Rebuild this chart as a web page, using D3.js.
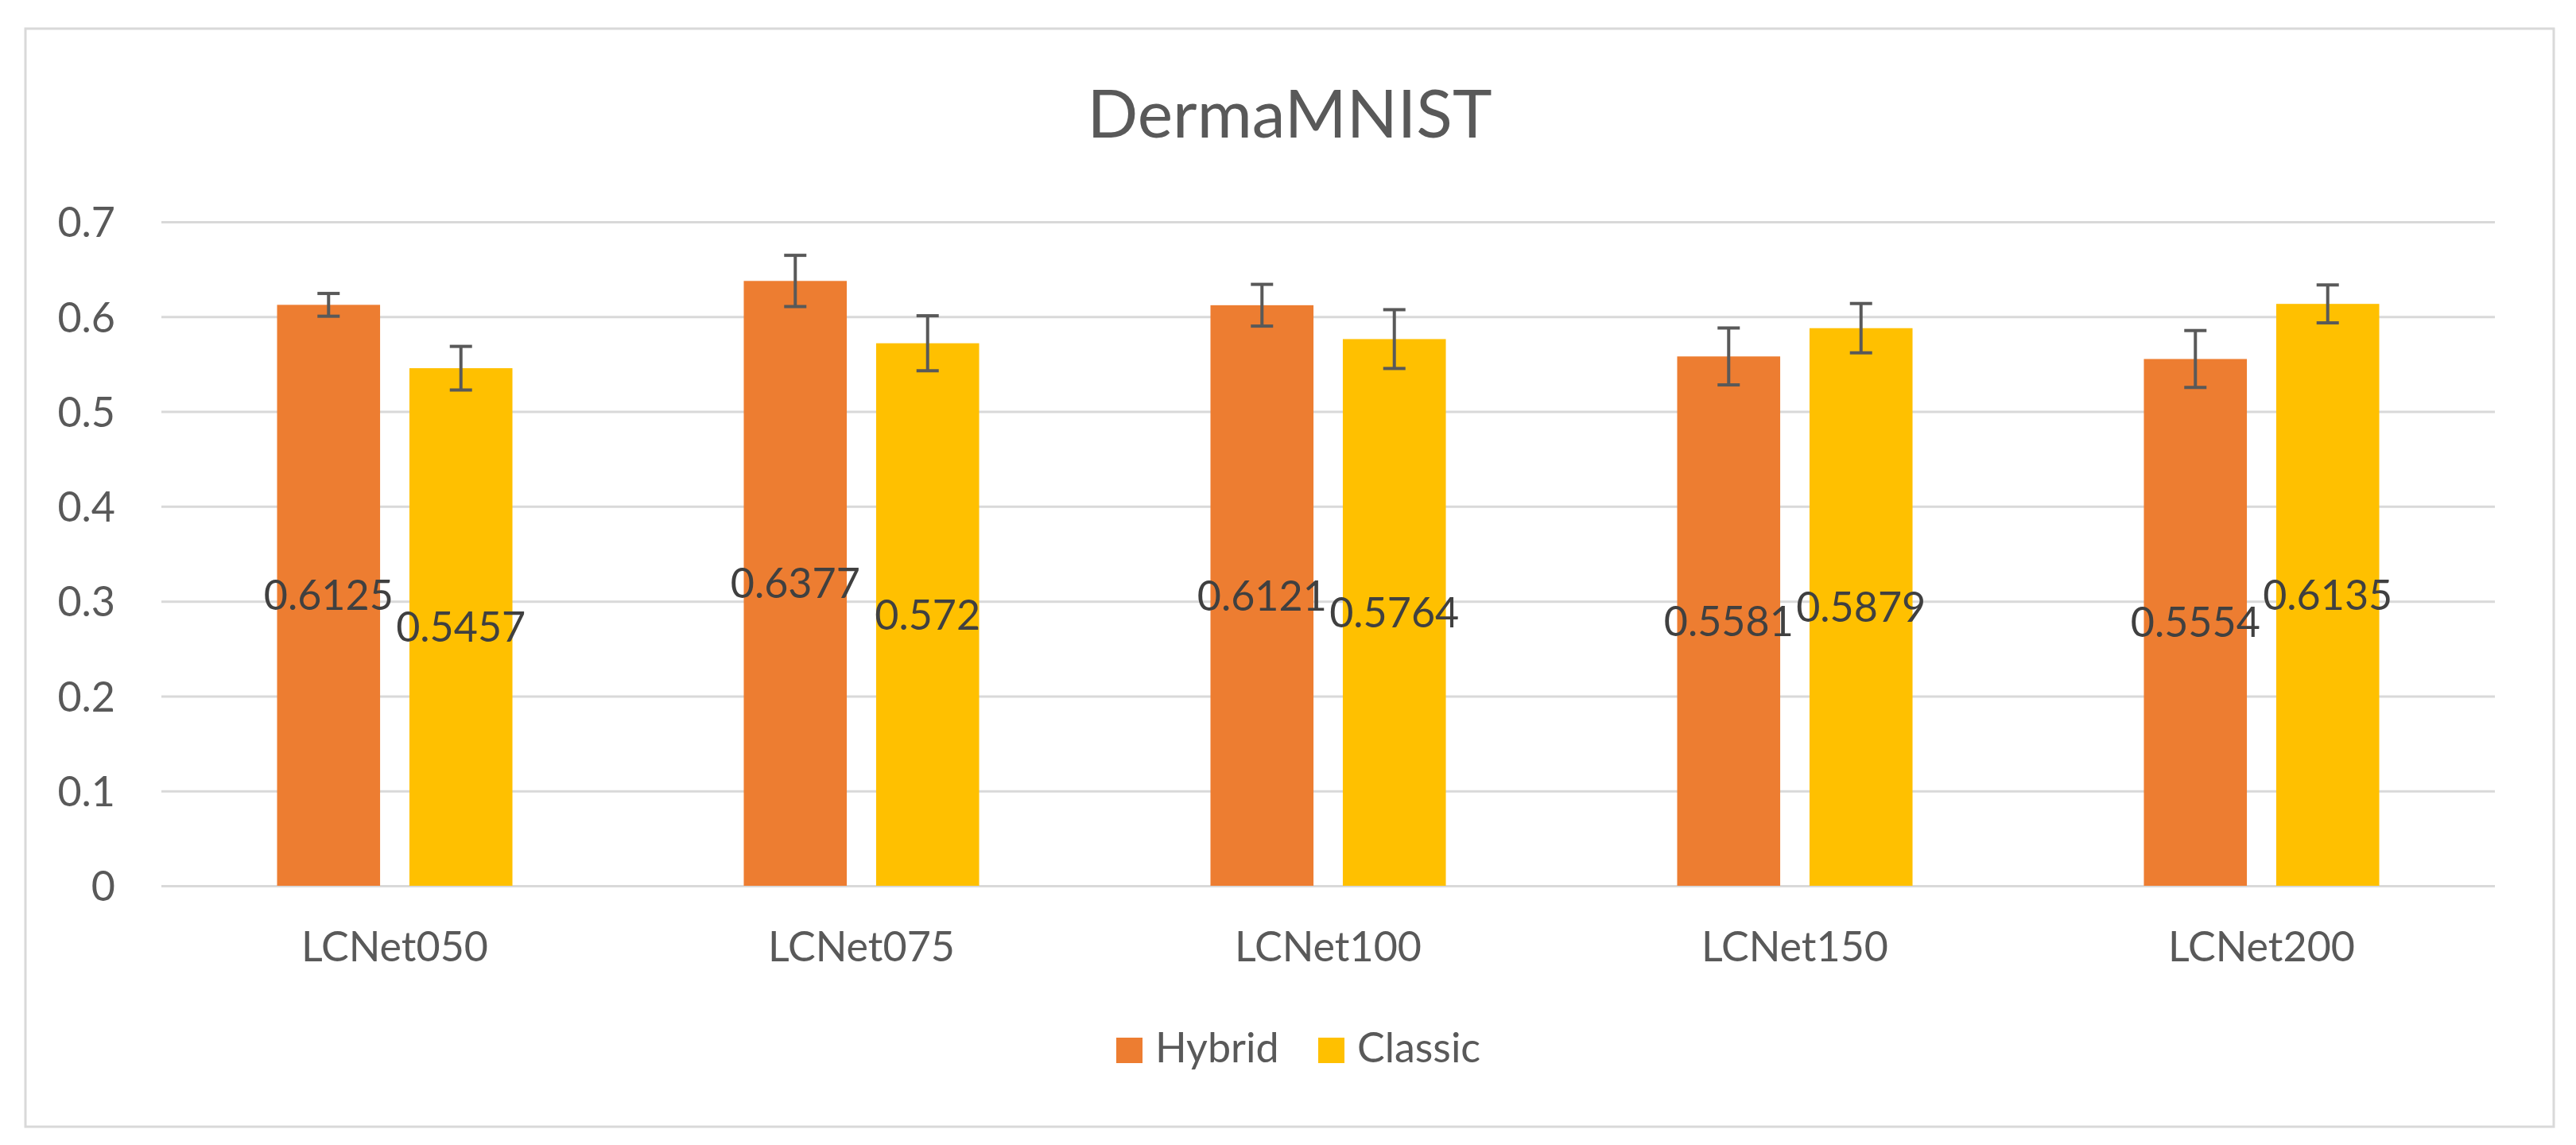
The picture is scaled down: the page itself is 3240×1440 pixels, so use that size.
<!DOCTYPE html>
<html><head><meta charset="utf-8">
<script src="https://cdn.jsdelivr.net/npm/d3@7"></script>
<style>html,body{margin:0;padding:0;background:#fff;}svg{display:block;}</style>
</head><body>
<script>
const title = "DermaMNIST";
const categories = ["LCNet050","LCNet075","LCNet100","LCNet150","LCNet200"];
const seriesNames = ["Hybrid","Classic"];
const hybridValues = [0.6125,0.6377,0.6121,0.5581,0.5554];
const classicValues = [0.5457,0.572,0.5764,0.5879,0.6135];
const hybridErrors = [0.012,0.027,0.022,0.030,0.030];
const classicErrors = [0.023,0.029,0.031,0.026,0.020];
const yTicks = [0,0.1,0.2,0.3,0.4,0.5,0.6,0.7];
const colors = ["#ED7D31","#FFC000"];

const W = 3240, H = 1440;
const FONT = "Lato, 'Open Sans', sans-serif";
const TXT = "#595959";
const plot = {left:203, right:3138, top:279, bottom:1114};

const svg = d3.select("body").append("svg").attr("width",W).attr("height",H);
svg.append("rect").attr("x",0).attr("y",0).attr("width",W).attr("height",H).attr("fill","#fff");
svg.append("rect").attr("x",32).attr("y",36).attr("width",3180).attr("height",1381)
  .attr("fill","#fff").attr("stroke","#D9D9D9").attr("stroke-width",3);

const y = d3.scaleLinear().domain([0,0.7]).range([plot.bottom, plot.top]);
const x0 = d3.scaleBand().domain(categories).range([plot.left, plot.right]).paddingInner(0).paddingOuter(0);
const x1 = d3.scaleBand().domain(seriesNames).range([0, x0.bandwidth()]).paddingInner(0.2216).paddingOuter(0.874);

// gridlines
const yAxis = d3.axisLeft(y).tickValues(yTicks).tickSize(-(plot.right-plot.left)).tickPadding(58).tickFormat(d=> d===0?"0":d3.format(".1f")(d));
const gy = svg.append("g").attr("transform",`translate(${plot.left},0)`).call(yAxis);
gy.select(".domain").remove();
gy.selectAll(".tick line").attr("stroke","#D9D9D9").attr("stroke-width",3);
gy.selectAll(".tick text").attr("fill",TXT).attr("font-family",FONT).attr("font-size",52).attr("dy","0.36em");

// x axis labels
const xAxis = d3.axisBottom(x0).tickSize(0).tickPadding(58);
const gx = svg.append("g").attr("transform",`translate(0,${plot.bottom})`).call(xAxis);
gx.select(".domain").remove();
gx.selectAll(".tick text").attr("fill",TXT).attr("font-family",FONT).attr("font-size",52);

const data = categories.map((c,i)=>({cat:c, vals:[
  {s:"Hybrid", v:hybridValues[i], e:hybridErrors[i], c:colors[0]},
  {s:"Classic", v:classicValues[i], e:classicErrors[i], c:colors[1]}]}));

const groups = svg.append("g").selectAll("g").data(data).join("g")
  .attr("transform",d=>`translate(${x0(d.cat)},0)`);
groups.selectAll("rect").data(d=>d.vals).join("rect")
  .attr("x",d=>x1(d.s)).attr("width",x1.bandwidth())
  .attr("y",d=>y(d.v)).attr("height",d=>y(0)-y(d.v)).attr("fill",d=>d.c);

// error bars
const eb = groups.selectAll("g.err").data(d=>d.vals).join("g").attr("class","err");
const cx = d=> x1(d.s)+x1.bandwidth()/2;
eb.append("line").attr("x1",cx).attr("x2",cx).attr("y1",d=>y(d.v+d.e)).attr("y2",d=>y(d.v-d.e))
  .attr("stroke","#595959").attr("stroke-width",4);
eb.append("line").attr("x1",d=>cx(d)-14).attr("x2",d=>cx(d)+14).attr("y1",d=>y(d.v+d.e)).attr("y2",d=>y(d.v+d.e))
  .attr("stroke","#595959").attr("stroke-width",4);
eb.append("line").attr("x1",d=>cx(d)-14).attr("x2",d=>cx(d)+14).attr("y1",d=>y(d.v-d.e)).attr("y2",d=>y(d.v-d.e))
  .attr("stroke","#595959").attr("stroke-width",4);

// data labels
groups.selectAll("text.lbl").data(d=>d.vals).join("text").attr("class","lbl")
  .attr("x",cx).attr("y",d=>y(d.v/2)).attr("dy","0.36em")
  .attr("text-anchor","middle").attr("fill","#404040").attr("font-family",FONT).attr("font-size",52)
  .text(d=>String(d.v));

// title
svg.append("text").attr("x",1622).attr("y",173).attr("text-anchor","middle")
  .attr("fill",TXT).attr("font-family",FONT).attr("font-size",84).text(title);

// legend
const legendX = [1404, 1658];
const lg = svg.append("g").selectAll("g").data(seriesNames).join("g")
  .attr("transform",(d,i)=>`translate(${legendX[i]},1305)`);
lg.append("rect").attr("width",33).attr("height",32).attr("fill",(d,i)=>colors[i]);
lg.append("text").attr("x",49).attr("y",31).attr("fill",TXT).attr("font-family",FONT).attr("font-size",52).text(d=>d);
</script>
</body></html>
